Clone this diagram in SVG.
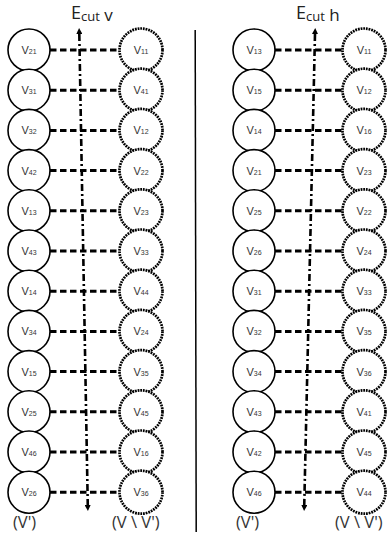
<svg xmlns="http://www.w3.org/2000/svg" width="389" height="534" viewBox="0 0 389 534">
<style>
.s{fill:#fff;stroke:#000;stroke-width:1.6}
.d{fill:#fff;stroke:#000;stroke-width:2.7;stroke-dasharray:1.8 0.9}
.t{font-family:"Liberation Sans",Arial,sans-serif;font-size:11px;fill:#333;text-anchor:middle}
.t tspan.b{font-size:7px}
.e{stroke:#000;stroke-width:3;stroke-dasharray:6.5 3.5;fill:none}
.c{stroke:#000;stroke-width:2.6;stroke-dasharray:7 3 2 3;fill:none}
.l{font-family:"Open Sans","Liberation Sans",sans-serif;fill:#222}
.b2{font-family:"Open Sans","Liberation Sans",sans-serif;font-size:16.5px;fill:#333}
</style>
<defs>
<marker id="ah" viewBox="0 0 6 6" refX="3" refY="3" markerWidth="6" markerHeight="6" markerUnits="userSpaceOnUse" orient="auto">
<path d="M0,0 L6,3 L0,6 Z" fill="#000"/>
</marker>
</defs>
<g id="connectors">
<path class="e" d="M50,50H120M50,90.2H120M50,130.4H120M50,170.6H120M50,210.8H120M50,251H120M50,291.2H120M50,331.4H120M50,371.6H120M50,411.8H120M50,452H120M50,492.2H120"/>
<path class="e" d="M275,50H343M275,90.2H343M275,130.4H343M275,170.6H343M275,210.8H343M275,251H343M275,291.2H343M275,331.4H343M275,371.6H343M275,411.8H343M275,452H343M275,492.2H343"/>
<line class="c" x1="79.3" y1="34" x2="87.8" y2="507" />
<line x1="79.3" y1="34" x2="79.2" y2="31" stroke="#000" stroke-width="2" marker-end="url(#ah)"/>
<line x1="87.7" y1="505" x2="87.8" y2="508" stroke="#000" stroke-width="2" marker-end="url(#ah)"/>
<line class="c" x1="315" y1="34" x2="304.2" y2="507" />
<line x1="315" y1="34" x2="315.1" y2="31" stroke="#000" stroke-width="2" marker-end="url(#ah)"/>
<line x1="304.3" y1="505" x2="304.2" y2="508" stroke="#000" stroke-width="2" marker-end="url(#ah)"/>
<line x1="195.2" y1="30" x2="196.2" y2="532" stroke="#000" stroke-width="1.5"/>
</g>
<text class="l" x="71" y="19" font-size="18">E<tspan font-size="13" dy="1.5">cut</tspan><tspan font-size="17"> v</tspan></text>
<text class="l" x="296" y="19" font-size="18">E<tspan font-size="13" dy="1.5">cut</tspan><tspan font-size="17"> h</tspan></text>
<g id="L1"><circle class="s" cx="29" cy="50" r="21"/><text class="t" x="29" y="54">V<tspan class="b">21</tspan></text></g>
<g id="L2"><circle class="s" cx="29" cy="90.2" r="21"/><text class="t" x="29" y="94.2">V<tspan class="b">31</tspan></text></g>
<g id="L3"><circle class="s" cx="29" cy="130.4" r="21"/><text class="t" x="29" y="134.4">V<tspan class="b">32</tspan></text></g>
<g id="L4"><circle class="s" cx="29" cy="170.6" r="21"/><text class="t" x="29" y="174.6">V<tspan class="b">42</tspan></text></g>
<g id="L5"><circle class="s" cx="29" cy="210.8" r="21"/><text class="t" x="29" y="214.8">V<tspan class="b">13</tspan></text></g>
<g id="L6"><circle class="s" cx="29" cy="251" r="21"/><text class="t" x="29" y="255">V<tspan class="b">43</tspan></text></g>
<g id="L7"><circle class="s" cx="29" cy="291.2" r="21"/><text class="t" x="29" y="295.2">V<tspan class="b">14</tspan></text></g>
<g id="L8"><circle class="s" cx="29" cy="331.4" r="21"/><text class="t" x="29" y="335.4">V<tspan class="b">34</tspan></text></g>
<g id="L9"><circle class="s" cx="29" cy="371.6" r="21"/><text class="t" x="29" y="375.6">V<tspan class="b">15</tspan></text></g>
<g id="L10"><circle class="s" cx="29" cy="411.8" r="21"/><text class="t" x="29" y="415.8">V<tspan class="b">25</tspan></text></g>
<g id="L11"><circle class="s" cx="29" cy="452" r="21"/><text class="t" x="29" y="456">V<tspan class="b">46</tspan></text></g>
<g id="L12"><circle class="s" cx="29" cy="492.2" r="21"/><text class="t" x="29" y="496.2">V<tspan class="b">26</tspan></text></g>
<g id="R1"><circle class="d" cx="141" cy="50" r="21.5"/><text class="t" x="141" y="54">V<tspan class="b">11</tspan></text></g>
<g id="R2"><circle class="d" cx="141" cy="90.2" r="21.5"/><text class="t" x="141" y="94.2">V<tspan class="b">41</tspan></text></g>
<g id="R3"><circle class="d" cx="141" cy="130.4" r="21.5"/><text class="t" x="141" y="134.4">V<tspan class="b">12</tspan></text></g>
<g id="R4"><circle class="d" cx="141" cy="170.6" r="21.5"/><text class="t" x="141" y="174.6">V<tspan class="b">22</tspan></text></g>
<g id="R5"><circle class="d" cx="141" cy="210.8" r="21.5"/><text class="t" x="141" y="214.8">V<tspan class="b">23</tspan></text></g>
<g id="R6"><circle class="d" cx="141" cy="251" r="21.5"/><text class="t" x="141" y="255">V<tspan class="b">33</tspan></text></g>
<g id="R7"><circle class="d" cx="141" cy="291.2" r="21.5"/><text class="t" x="141" y="295.2">V<tspan class="b">44</tspan></text></g>
<g id="R8"><circle class="d" cx="141" cy="331.4" r="21.5"/><text class="t" x="141" y="335.4">V<tspan class="b">24</tspan></text></g>
<g id="R9"><circle class="d" cx="141" cy="371.6" r="21.5"/><text class="t" x="141" y="375.6">V<tspan class="b">35</tspan></text></g>
<g id="R10"><circle class="d" cx="141" cy="411.8" r="21.5"/><text class="t" x="141" y="415.8">V<tspan class="b">45</tspan></text></g>
<g id="R11"><circle class="d" cx="141" cy="452" r="21.5"/><text class="t" x="141" y="456">V<tspan class="b">16</tspan></text></g>
<g id="R12"><circle class="d" cx="141" cy="492.2" r="21.5"/><text class="t" x="141" y="496.2">V<tspan class="b">36</tspan></text></g>
<g id="HL1"><circle class="s" cx="254" cy="50" r="21"/><text class="t" x="254" y="54">V<tspan class="b">13</tspan></text></g>
<g id="HL2"><circle class="s" cx="254" cy="90.2" r="21"/><text class="t" x="254" y="94.2">V<tspan class="b">15</tspan></text></g>
<g id="HL3"><circle class="s" cx="254" cy="130.4" r="21"/><text class="t" x="254" y="134.4">V<tspan class="b">14</tspan></text></g>
<g id="HL4"><circle class="s" cx="254" cy="170.6" r="21"/><text class="t" x="254" y="174.6">V<tspan class="b">21</tspan></text></g>
<g id="HL5"><circle class="s" cx="254" cy="210.8" r="21"/><text class="t" x="254" y="214.8">V<tspan class="b">25</tspan></text></g>
<g id="HL6"><circle class="s" cx="254" cy="251" r="21"/><text class="t" x="254" y="255">V<tspan class="b">26</tspan></text></g>
<g id="HL7"><circle class="s" cx="254" cy="291.2" r="21"/><text class="t" x="254" y="295.2">V<tspan class="b">31</tspan></text></g>
<g id="HL8"><circle class="s" cx="254" cy="331.4" r="21"/><text class="t" x="254" y="335.4">V<tspan class="b">32</tspan></text></g>
<g id="HL9"><circle class="s" cx="254" cy="371.6" r="21"/><text class="t" x="254" y="375.6">V<tspan class="b">34</tspan></text></g>
<g id="HL10"><circle class="s" cx="254" cy="411.8" r="21"/><text class="t" x="254" y="415.8">V<tspan class="b">43</tspan></text></g>
<g id="HL11"><circle class="s" cx="254" cy="452" r="21"/><text class="t" x="254" y="456">V<tspan class="b">42</tspan></text></g>
<g id="HL12"><circle class="s" cx="254" cy="492.2" r="21"/><text class="t" x="254" y="496.2">V<tspan class="b">46</tspan></text></g>
<g id="HR1"><circle class="d" cx="364" cy="50" r="21.5"/><text class="t" x="364" y="54">V<tspan class="b">11</tspan></text></g>
<g id="HR2"><circle class="d" cx="364" cy="90.2" r="21.5"/><text class="t" x="364" y="94.2">V<tspan class="b">12</tspan></text></g>
<g id="HR3"><circle class="d" cx="364" cy="130.4" r="21.5"/><text class="t" x="364" y="134.4">V<tspan class="b">16</tspan></text></g>
<g id="HR4"><circle class="d" cx="364" cy="170.6" r="21.5"/><text class="t" x="364" y="174.6">V<tspan class="b">23</tspan></text></g>
<g id="HR5"><circle class="d" cx="364" cy="210.8" r="21.5"/><text class="t" x="364" y="214.8">V<tspan class="b">22</tspan></text></g>
<g id="HR6"><circle class="d" cx="364" cy="251" r="21.5"/><text class="t" x="364" y="255">V<tspan class="b">24</tspan></text></g>
<g id="HR7"><circle class="d" cx="364" cy="291.2" r="21.5"/><text class="t" x="364" y="295.2">V<tspan class="b">33</tspan></text></g>
<g id="HR8"><circle class="d" cx="364" cy="331.4" r="21.5"/><text class="t" x="364" y="335.4">V<tspan class="b">35</tspan></text></g>
<g id="HR9"><circle class="d" cx="364" cy="371.6" r="21.5"/><text class="t" x="364" y="375.6">V<tspan class="b">36</tspan></text></g>
<g id="HR10"><circle class="d" cx="364" cy="411.8" r="21.5"/><text class="t" x="364" y="415.8">V<tspan class="b">41</tspan></text></g>
<g id="HR11"><circle class="d" cx="364" cy="452" r="21.5"/><text class="t" x="364" y="456">V<tspan class="b">45</tspan></text></g>
<g id="HR12"><circle class="d" cx="364" cy="492.2" r="21.5"/><text class="t" x="364" y="496.2">V<tspan class="b">44</tspan></text></g>
<text class="b2" x="13" y="528">(V')</text>
<text class="b2" x="112" y="528">(V \ V')</text>
<text class="b2" x="236" y="528">(V')</text>
<text class="b2" x="335" y="528">(V \ V')</text>
</svg>
